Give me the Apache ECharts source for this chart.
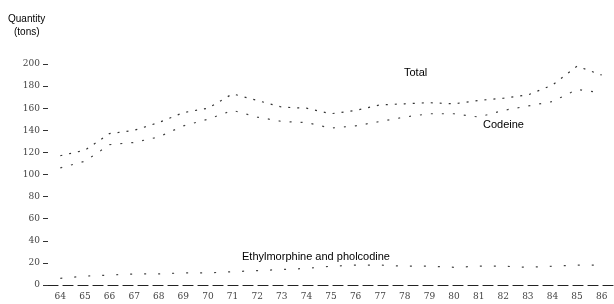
<!DOCTYPE html>
<html>
<head>
<meta charset="utf-8">
<script src="https://cdn.jsdelivr.net/npm/echarts@6/dist/echarts.min.js"></script>
<style>
	html, body { margin: 0; padding: 0; background: #fff; }
	#main { width: 614px; height: 304px; }
</style>
</head>
<body>
<div id="main"></div>
<script>
	var years = ['64', '65', '66', '67', '68', '69', '70', '71', '72', '73', '74', '75',
		'76', '77', '78', '79', '80', '81', '82', '83', '84', '85', '86'
	];
	// 总量
	var total = [117, 122, 137, 140, 147, 156, 160, 173, 167, 161, 160, 155,
		158, 163, 164, 165, 164, 167, 169, 172, 181, 198, 190
	];
	// 可待因
	var codeine = [106, 112, 127, 129, 134, 144, 150, 158, 152, 148, 147, 142,
		144, 148, 152, 155, 155, 152, 158, 162, 166, 177, 174
	];
	// 乙基吗啡和福尔可定
	var ethyl = [6, 8, 9, 10, 10, 11, 11, 12, 13, 14, 15, 17,
		18, 18, 17, 17, 16, 17, 17, 16, 17, 18, 18
	];
	var yTicks = [0, 20, 40, 60, 80, 100, 120, 140, 160, 180, 200];

	var myChart = echarts.init(document.getElementById('main'));

	function dotted(name, data, color, dash) {
		return {
			name: name,
			type: 'line',
			data: data,
			symbol: 'none',
			silent: true,
			lineStyle: {
				color: color,
				width: 1.2,
				type: dash
			}
		};
	}

	var txt = { fontFamily: 'Liberation Sans', color: '#111' };

	var option = {
		backgroundColor: '#fff',
		animation: false,
		grid: {
			left: 48,
			right: 0,
			top: 64,
			bottom: 19
		},
		xAxis: {
			type: 'category',
			data: years,
			boundaryGap: true,
			axisLine: {
				show: true,
				lineStyle: { color: '#222', width: 1.2, type: [10, 5] }
			},
			axisTick: { show: false },
			axisLabel: {
				margin: 7,
				fontSize: 9,
				fontFamily: 'DejaVu Serif',
				color: '#444'
			},
			splitLine: { show: false }
		},
		yAxis: {
			type: 'value',
			min: yTicks[0],
			max: yTicks[yTicks.length - 1],
			interval: 20,
			axisLine: { show: false },
			axisTick: {
				show: true,
				length: 5,
				lineStyle: { color: '#333' }
			},
			axisLabel: {
				margin: 8,
				fontSize: 9,
				fontFamily: 'DejaVu Serif',
				color: '#444'
			},
			splitLine: { show: false }
		},
		graphic: [
			{ type: 'text', left: 8, top: 14, style: Object.assign({ text: 'Quantity', fontSize: 10 }, txt) },
			{ type: 'text', left: 14, top: 27, style: Object.assign({ text: '(tons)', fontSize: 10 }, txt) },
			{ type: 'text', left: 404, top: 67, style: Object.assign({ text: 'Total', fontSize: 11 }, txt) },
			{ type: 'text', left: 483, top: 119, style: Object.assign({ text: 'Codeine', fontSize: 11 }, txt) },
			{ type: 'text', left: 242, top: 251, style: Object.assign({ text: 'Ethylmorphine and pholcodine', fontSize: 11 }, txt) }
		],
		series: [
			dotted('Total', total, '#333', [2, 7]),
			dotted('Codeine', codeine, '#444', [2, 9]),
			dotted('Ethylmorphine and pholcodine', ethyl, '#444', [2, 12])
		]
	};

	myChart.setOption(option);
</script>
</body>
</html>
